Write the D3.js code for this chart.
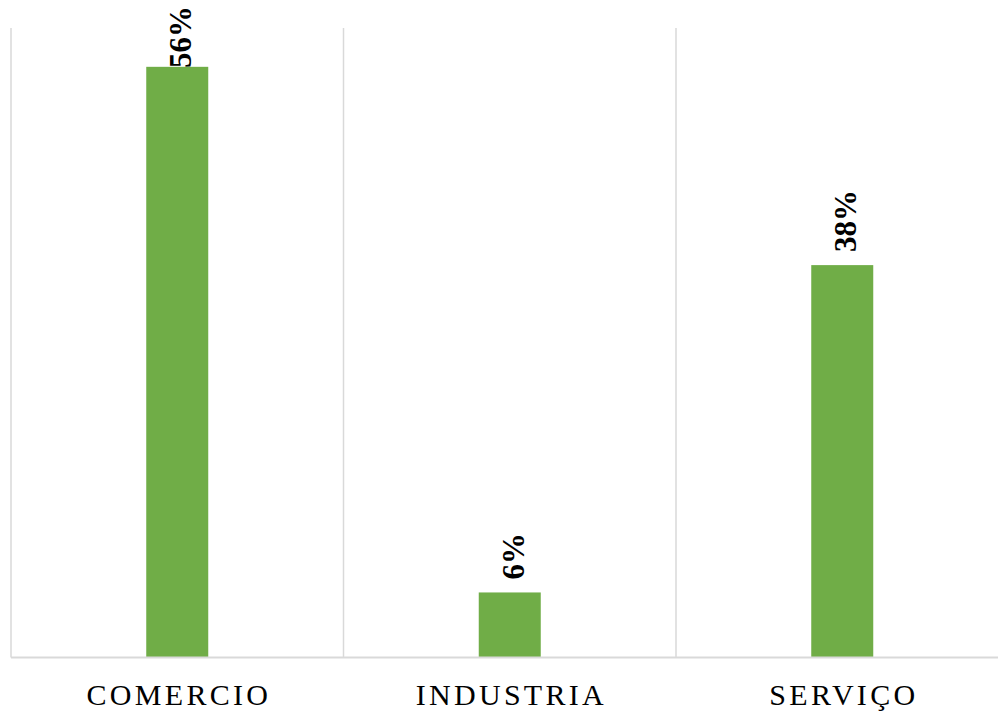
<!DOCTYPE html>
<html><head><meta charset="utf-8">
<script src="https://cdn.jsdelivr.net/npm/d3@7"></script>
<style>body{margin:0;background:#fff}svg{display:block}</style>
</head><body>
<svg id="c" width="998" height="711"></svg>
<script>
const categories = ["COMERCIO", "INDUSTRIA", "SERVIÇO"];
const values = [56.3, 6.2, 37.4];
const labels = ["56%", "6%", "38%"];
const yTicks = [0, 60];

const svg = d3.select("#c");
const x = d3.scaleBand().domain(categories).range([11, 1008.5]).paddingInner(0).paddingOuter(0);
const y = d3.scaleLinear().domain([0, 60]).range([657.5, 28]);

// vertical gridlines (category separators)
const seps = categories.map(c => x(c)).concat([x.range()[1]]);
svg.append("g").selectAll("line").data(seps).join("line")
  .attr("x1", d => d).attr("x2", d => d)
  .attr("y1", y(60)).attr("y2", y(0))
  .attr("stroke", "#d9d9d9").attr("stroke-width", 1.5);

const bw = 62;
const cx = c => x(c) + x.bandwidth() / 2;

// labels (drawn under bars so bar can overlap)
const fs = 31;
svg.append("g").selectAll("text").data(categories).join("text")
  .attr("transform", (c, i) => {
    const top = y(values[i]);
    const len = labels[i].length * 0.5 * fs + 0.5 * fs;
    const endY = Math.max(top - 13 - len, 6);
    return `translate(${cx(c) + 14},${endY}) rotate(-90)`;
  })
  .attr("text-anchor", "end")
  .attr("font-family", "'Liberation Serif', 'Times New Roman', serif")
  .attr("font-weight", "bold")
  .attr("font-size", fs)
  .attr("fill", "#000")
  .text((c, i) => labels[i]);

svg.append("g").selectAll("rect").data(categories).join("rect")
  .attr("x", c => cx(c) - bw / 2)
  .attr("width", bw)
  .attr("y", (c, i) => y(values[i]))
  .attr("height", (c, i) => y(0) - y(values[i]))
  .attr("fill", "#70ad47");

// baseline
svg.append("line").attr("x1", 11).attr("x2", 998).attr("y1", y(0)).attr("y2", y(0))
  .attr("stroke", "#d9d9d9").attr("stroke-width", 2);

// category labels
const ls = 3.3;
svg.append("g").selectAll("text").data(categories).join("text")
  .attr("x", c => cx(c) + ls / 2).attr("y", 705)
  .attr("text-anchor", "middle")
  .attr("font-family", "'Liberation Serif', 'Times New Roman', serif")
  .attr("font-size", 30)
  .attr("letter-spacing", ls)
  .attr("fill", "#000")
  .text(c => c);
</script>
</body></html>
